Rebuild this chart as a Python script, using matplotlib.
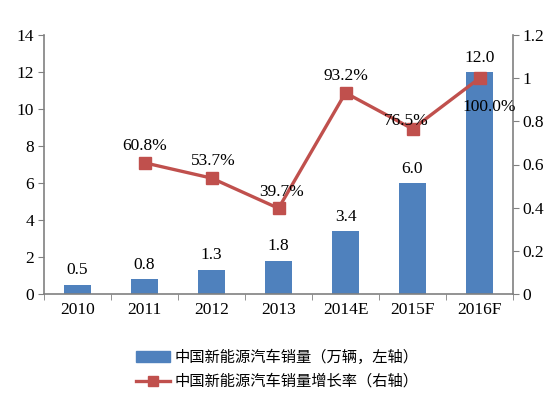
import matplotlib
matplotlib.use("Agg")
import matplotlib.pyplot as plt
from matplotlib.lines import Line2D
from matplotlib.patches import Patch

categories = ["2010", "2011", "2012", "2013", "2014E", "2015F", "2016F"]
sales = [0.5, 0.8, 1.3, 1.8, 3.4, 6.0, 12.0]
growth_cats = ["2011", "2012", "2013", "2014E", "2015F", "2016F"]
growth = [0.608, 0.537, 0.397, 0.932, 0.765, 1.0]
growth_labels = ["60.8%", "53.7%", "39.7%", "93.2%", "76.5%", "100.0%"]
left_ticks = [0, 2, 4, 6, 8, 10, 12, 14]
right_ticks = [0, 0.2, 0.4, 0.6, 0.8, 1, 1.2]
right_tick_labels = ["0", "0.2", "0.4", "0.6", "0.8", "1", "1.2"]
legend_bar = "中国新能源汽车销量（万辆，左轴）"
legend_line = "中国新能源汽车销量增长率（右轴）"

serif = ["Liberation Serif", "DejaVu Serif"]
cjk = ["Noto Sans CJK SC", "DejaVu Sans"]
bar_color = "#4F81BD"
line_color = "#C0504D"
spine_color = "#808080"
fs = 12.5

fig = plt.figure(figsize=(5.55, 3.97), dpi=100)
ax = fig.add_axes([44/555, 1-294/397, (513-44)/555, (294-35)/397])
ax2 = ax.twinx()

x = list(range(len(categories)))
ax.bar(x, sales, width=0.4, color=bar_color, zorder=2)
for xi, v in zip(x, sales):
    ax.text(xi, v + 0.35, f"{v:.1f}", ha="center", va="bottom",
            fontsize=fs, family=serif)

gx = [categories.index(c) for c in growth_cats]
ax2.plot(gx, growth, color=line_color, lw=2.4, marker="s", markersize=9, zorder=3)
offsets = [(0, 0.04), (0.02, 0.04), (0.05, 0.04), (0.0, 0.04), (-0.1, 0.0), (0.15, -0.17)]
for xi, v, lab, (dx, dy) in zip(gx, growth, growth_labels, offsets):
    ax2.text(xi + dx, v + dy, lab, ha="center", va="bottom",
             fontsize=fs, family=serif)

ax.set_xlim(-0.5, len(categories) - 0.5)
ax.set_ylim(0, 14)
ax2.set_ylim(0, 1.2)
ax.set_yticks(left_ticks)
ax.set_yticklabels([str(t) for t in left_ticks], family=serif, fontsize=fs)
ax2.set_yticks(right_ticks)
ax2.set_yticklabels(right_tick_labels, family=serif, fontsize=fs)
ax.set_xticks(x)
ax.set_xticklabels(categories, family=serif, fontsize=fs)
ax.set_xticks([i + 0.5 for i in range(-1, len(categories))], minor=True)
ax.tick_params(axis="x", which="major", length=0, pad=6)
ax.tick_params(axis="x", which="minor", length=4, color=spine_color, direction="out")
ax.tick_params(axis="y", length=4, color=spine_color, direction="out", pad=3)
ax2.tick_params(axis="y", length=4, color=spine_color, direction="out", pad=3)

for a in (ax, ax2):
    a.spines["top"].set_visible(False)
    for s in ("left", "right", "bottom"):
        a.spines[s].set_color(spine_color)
        a.spines[s].set_linewidth(1.2)
ax.spines["right"].set_visible(False)
ax2.spines["left"].set_visible(False)
ax2.spines["bottom"].set_visible(False)

handles = [Patch(color=bar_color),
           Line2D([0], [0], color=line_color, lw=2.4, marker="s", markersize=7)]
fig.legend(handles, [legend_bar, legend_line], loc="upper left",
           bbox_to_anchor=(130/555, 1-343/397), frameon=False,
           prop={"family": cjk, "size": 11}, handlelength=2.2,
           labelspacing=0.45, handletextpad=0.3, borderaxespad=0)

fig.savefig("out.png", dpi=100)
